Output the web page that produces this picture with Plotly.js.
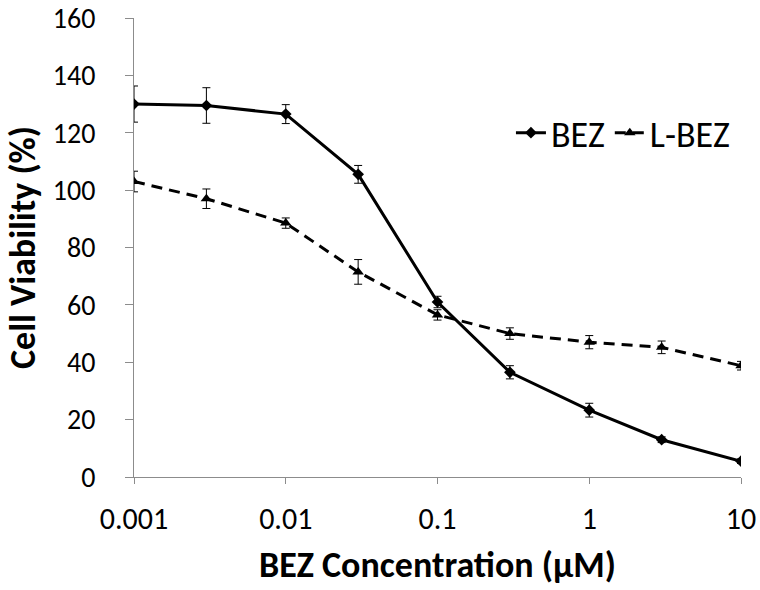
<!DOCTYPE html>
<html>
<head>
<meta charset="utf-8">
<script src="https://cdn.plot.ly/plotly-3.0.1.min.js"></script>
<style>html,body{margin:0;padding:0;background:#fff;}#chart{width:760px;height:590px;}</style>
</head>
<body>
<div id="chart"></div>
<script>
const concentrations = [0.001, 0.003, 0.01, 0.03, 0.1, 0.3, 1, 3, 10];
const bezValues = [130, 129.5, 126.5, 105.5, 61, 36.5, 23.3, 13, 5.5];
const bezErrors = [6.3, 6.2, 3.3, 3.1, 2, 2.3, 2.4, 1, 0.8];
const lbezValues = [103, 97, 88.5, 71.5, 56.5, 50, 47, 45.2, 38.8];
const lbezErrors = [3.6, 3.4, 1.8, 4.3, 1.8, 2, 2.3, 2.2, 1.5];
const tickValues = [0.001, 0.01, 0.1, 1, 10];
const tickLabels = ["0.001", "0.01", "0.1", "1", "10"];

const font = "Carlito, Lato, 'Open Sans', sans-serif";

const traces = [
  {
    x: concentrations, y: bezValues, name: "BEZ", type: "scatter", mode: "lines+markers",
    line: {color: "#000", width: 3},
    marker: {symbol: "diamond", size: 9, color: "#000"},
    error_y: {type: "data", array: bezErrors, visible: true, color: "#000", thickness: 1, width: 4}
  },
  {
    x: concentrations, y: lbezValues, name: "L-BEZ", type: "scatter", mode: "lines+markers",
    line: {color: "#000", width: 3, dash: "11px,7px"},
    marker: {symbol: "triangle-up", size: 10, color: "#000"},
    error_y: {type: "data", array: lbezErrors, visible: true, color: "#000", thickness: 1, width: 4}
  }
];

const layout = {
  width: 760, height: 590,
  margin: {l: 134, r: 19, t: 18, b: 113},
  paper_bgcolor: "#fff", plot_bgcolor: "#fff",
  showlegend: true,
  legend: {
    x: 0.621, y: 0.75, xanchor: "left", yanchor: "middle",
    orientation: "h", font: {family: font, size: 36, color: "#000"},
    bgcolor: "rgba(0,0,0,0)", itemwidth: 30, tracegroupgap: 0
  },
  xaxis: {
    type: "log", range: [-3, 1],
    tickvals: tickValues, ticktext: tickLabels,
    showgrid: false, zeroline: false,
    showline: true, linecolor: "#8c8c8c", linewidth: 1,
    ticks: "outside", ticklen: 6, tickcolor: "#8c8c8c",
    ticklabelstandoff: 9, ticklabeloverflow: "allow",
    tickfont: {family: font, size: 30, color: "#000"},
    title: {text: "<b>BEZ Concentration (μM)</b>", font: {family: font, size: 36, color: "#000"}, standoff: 15}
  },
  yaxis: {
    range: [0, 160], dtick: 20,
    showgrid: false, zeroline: false,
    showline: true, linecolor: "#8c8c8c", linewidth: 1,
    ticks: "outside", ticklen: 8, tickcolor: "#8c8c8c",
    ticklabelstandoff: 24, ticklabeloverflow: "allow",
    tickfont: {family: font, size: 28, color: "#000"},
    title: {text: "<b>Cell Viability (%)</b>", font: {family: font, size: 36, color: "#000"}, standoff: 6}
  }
};

Plotly.newPlot("chart", traces, layout, {displayModeBar: false, staticPlot: true});
</script>
</body>
</html>
